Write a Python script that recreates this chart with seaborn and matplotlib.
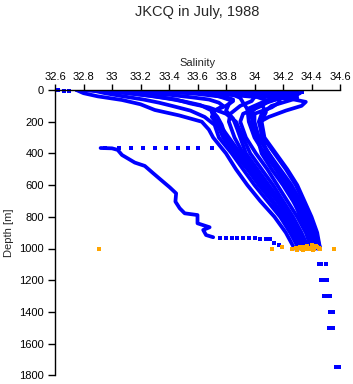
import numpy as np
import pandas as pd
import matplotlib
matplotlib.use("Agg")
import matplotlib.pyplot as plt
import seaborn as sns

# ---------------- data ----------------
title = "JKCQ in July, 1988"
x_ticks = [32.6, 32.8, 33.0, 33.2, 33.4, 33.6, 33.8, 34.0, 34.2, 34.4, 34.6]
x_tick_labels = ["32.6", "32.8", "33", "33.2", "33.4", "33.6", "33.8", "34", "34.2", "34.4", "34.6"]
y_ticks = [0, 200, 400, 600, 800, 1000, 1200, 1400, 1600, 1800]

# CTD profiles (salinity, depth)
pA_s = [32.75, 33.10, 33.40, 33.70, 33.90, 34.05, 34.25, 34.36, 34.33, 34.22, 34.10, 34.04, 34.05, 34.09, 34.17, 34.24, 34.30, 34.35, 34.40, 34.44]
pA_d = [0, 8, 15, 22, 30, 40, 55, 75, 100, 130, 170, 200, 300, 400, 500, 600, 700, 800, 900, 1000]
pB_s = [33.20, 33.50, 33.80, 34.00, 34.20, 34.30, 34.25, 34.12, 34.05, 34.03, 34.06, 34.14, 34.22, 34.29, 34.34, 34.39, 34.43, 34.46]
pB_d = [0, 10, 20, 30, 40, 50, 65, 100, 150, 200, 300, 400, 500, 600, 700, 800, 900, 1000]
pC_s = [33.60, 33.85, 34.10, 34.25, 34.30, 34.20, 34.05, 33.95, 33.96, 34.00, 34.07, 34.15, 34.22, 34.28, 34.32, 34.37, 34.41]
pC_d = [0, 10, 20, 25, 35, 50, 80, 120, 200, 300, 400, 500, 600, 700, 800, 900, 1000]
pD_s = [32.75, 32.80, 32.90, 33.07, 33.20, 33.30, 33.47, 33.63, 33.68, 33.71, 33.80, 33.87, 33.95, 34.04, 34.14, 34.22, 34.28]
pD_d = [0, 20, 40, 63, 90, 126, 160, 200, 250, 300, 400, 500, 600, 700, 800, 900, 1000]
pE_s = [32.85, 32.95, 33.08, 33.22, 33.33, 33.42, 33.55, 33.65, 33.72, 33.75, 33.84, 33.92, 34.00, 34.09, 34.18, 34.25, 34.31]
pE_d = [0, 20, 40, 60, 80, 100, 130, 170, 220, 300, 400, 500, 600, 700, 800, 900, 1000]
pF_s = [33.00, 33.08, 33.25, 33.40, 33.52, 33.62, 33.70, 33.74, 33.77, 33.80, 33.88, 33.97, 34.05, 34.13, 34.21, 34.28, 34.33]
pF_d = [0, 15, 35, 55, 75, 95, 130, 170, 220, 300, 400, 500, 600, 700, 800, 900, 1000]
pG_s = [33.30, 33.40, 33.60, 33.80, 33.85, 33.82, 33.80, 33.85, 33.88, 33.90, 33.94, 34.02, 34.10, 34.18, 34.25, 34.31, 34.36]
pG_d = [0, 10, 25, 45, 60, 90, 130, 180, 250, 300, 400, 500, 600, 700, 800, 900, 1000]
pH_s = [33.45, 33.55, 33.75, 34.02, 34.10, 34.05, 33.92, 33.90, 33.94, 34.01, 34.09, 34.16, 34.23, 34.30, 34.36, 34.40]
pH_d = [0, 10, 25, 45, 70, 100, 150, 200, 300, 400, 500, 600, 700, 800, 900, 1000]
pI_s = [33.80, 33.95, 34.10, 34.15, 34.18, 34.12, 34.00, 33.98, 34.02, 34.05, 34.12, 34.20, 34.27, 34.33, 34.39, 34.42]
pI_d = [0, 10, 25, 45, 75, 110, 150, 200, 300, 400, 500, 600, 700, 800, 900, 1000]
pJ_s = [34.00, 34.10, 34.22, 34.28, 34.20, 34.10, 34.05, 34.08, 34.05, 34.07, 34.15, 34.23, 34.30, 34.35, 34.40, 34.44, 34.46]
pJ_d = [0, 5, 15, 25, 40, 60, 90, 140, 200, 300, 400, 500, 600, 700, 800, 900, 1000]
pK_s = [32.80, 32.95, 33.20, 33.40, 33.55, 33.68, 33.75, 33.78, 33.70, 33.72, 33.78, 33.82, 33.90, 33.99, 34.07, 34.16, 34.24, 34.30, 34.34]
pK_d = [0, 10, 20, 30, 45, 60, 80, 100, 140, 180, 250, 300, 400, 500, 600, 700, 800, 900, 1000]
pL_s = [33.10, 33.30, 33.60, 33.85, 33.95, 34.00, 33.98, 33.90, 33.83, 33.82, 33.86, 33.92, 34.00, 34.08, 34.16, 34.23, 34.29, 34.35]
pL_d = [0, 5, 12, 20, 30, 45, 70, 100, 150, 200, 300, 400, 500, 600, 700, 800, 900, 1000]
pM_s = [32.90, 33.00, 33.15, 33.30, 33.45, 33.55, 33.68, 33.80, 33.87, 33.92, 33.97, 34.05, 34.13, 34.20, 34.27, 34.33, 34.38]
pM_d = [0, 10, 25, 40, 60, 85, 110, 150, 200, 300, 400, 500, 600, 700, 800, 900, 1000]
pN_s = [33.60, 33.70, 33.85, 33.90, 33.92, 33.95, 34.00, 34.00, 34.03, 34.10, 34.17, 34.25, 34.31, 34.36, 34.41, 34.44]
pN_d = [0, 10, 30, 50, 80, 120, 160, 200, 300, 400, 500, 600, 700, 800, 900, 1000]
pP_s = [33.50, 33.62, 33.75, 33.85, 33.80, 33.72, 33.70, 33.74, 33.78, 33.86, 33.95, 34.03, 34.12, 34.20, 34.27, 34.32]
pP_d = [0, 15, 40, 70, 100, 130, 170, 220, 300, 400, 500, 600, 700, 800, 900, 1000]
pQ_s = [34.20, 34.28, 34.32, 34.28, 34.15, 34.02, 33.97, 33.99, 34.03, 34.10, 34.18, 34.26, 34.32, 34.37, 34.42, 34.45]
pQ_d = [0, 8, 20, 35, 60, 100, 150, 200, 300, 400, 500, 600, 700, 800, 900, 1000]

# the odd profile that starts at ~366 m
odd_s = [32.92, 33.00, 33.04, 33.07, 33.16, 33.23, 33.29, 33.35, 33.405, 33.45, 33.445, 33.475, 33.51, 33.60, 33.60, 33.685, 33.64, 33.66, 33.71]
odd_d = [366, 368, 378, 410, 458, 479, 526, 572, 614, 652, 704, 746, 778, 789, 841, 866, 883, 915, 929]

# sparse blue samples
dots_s = [32.95, 33.05, 33.13, 33.22, 33.30, 33.38, 33.46, 33.53, 33.60, 33.70,
          33.76, 33.80, 33.84, 33.88, 33.92, 33.96, 34.00, 34.04, 34.08, 34.11, 34.14, 34.17,
          32.62, 32.66, 32.70, 33.95, 34.00, 34.05, 34.10, 34.15, 34.20, 34.25, 34.33,
          34.45, 34.47, 34.50, 34.47, 34.49, 34.51, 34.49, 34.51, 34.53, 34.53, 34.55,
          34.52, 34.55, 34.57, 34.59]
dots_d = [366, 366, 366, 366, 366, 366, 366, 366, 366, 366,
          935, 935, 935, 935, 936, 936, 936, 937, 937, 938, 965, 975,
          3, 5, 6, 20, 20, 21, 21, 22, 22, 22, 10,
          1100, 1100, 1100, 1200, 1200, 1200, 1300, 1300, 1300, 1400, 1400,
          1500, 1500, 1750, 1750]

# orange bottle samples near 1000 m
bottle_s = [32.91, 34.12, 34.19, 34.26, 34.29, 34.31, 34.33, 34.35, 34.37, 34.38, 34.40, 34.42, 34.44, 34.46,
            34.30, 34.34, 34.36, 34.39, 34.41, 34.43, 34.32, 34.37, 34.40, 34.45, 34.56]
bottle_d = [1000, 1000, 990, 1000, 998, 995, 1002, 990, 985, 1005, 995, 1000, 990, 1002,
            1008, 1008, 995, 998, 1008, 985, 990, 1000, 980, 995, 1000]

profiles = {
    "A": (pA_s, pA_d), "B": (pB_s, pB_d), "C": (pC_s, pC_d), "D": (pD_s, pD_d),
    "E": (pE_s, pE_d), "F": (pF_s, pF_d), "G": (pG_s, pG_d), "H": (pH_s, pH_d),
    "I": (pI_s, pI_d), "J": (pJ_s, pJ_d), "K": (pK_s, pK_d), "L": (pL_s, pL_d),
    "M": (pM_s, pM_d), "N": (pN_s, pN_d), "P": (pP_s, pP_d), "Q": (pQ_s, pQ_d),
    "odd": (odd_s, odd_d),
}

rows = []
for name, (ss, dd) in profiles.items():
    for i, (s, d) in enumerate(zip(ss, dd)):
        rows.append({"profile": name, "order": i, "S": s, "D": d})
prof_df = pd.DataFrame(rows)
dots_df = pd.DataFrame({"S": dots_s, "D": dots_d})
bottle_df = pd.DataFrame({"S": bottle_s, "D": bottle_d})

# ---------------- plot ----------------
sns.set_style("white")
plt.rcParams["font.family"] = ["Liberation Sans", "DejaVu Sans"]

fig = plt.figure(figsize=(3.53, 3.84), dpi=100)
ax = fig.add_axes([55 / 353, 1 - 375.3 / 384, 285 / 353, 285.3 / 384])

BLUE = "#0000ff"
ORANGE = "#ffa500"

sns.lineplot(data=prof_df, x="S", y="D", units="profile", estimator=None, sort=False,
             color=BLUE, linewidth=2.7, ax=ax, legend=False)
sns.scatterplot(data=dots_df, x="S", y="D", color=BLUE, marker="s", s=8, linewidth=0,
                ax=ax, legend=False, clip_on=False)
sns.scatterplot(data=bottle_df, x="S", y="D", color=ORANGE, marker="s", s=8, linewidth=0,
                ax=ax, legend=False, clip_on=False, zorder=5)

ax.set_xlim(32.6, 34.6)
ax.set_ylim(1800, 0)
ax.xaxis.tick_top()
ax.xaxis.set_label_position("top")
ax.set_xticks(x_ticks)
ax.set_xticklabels(x_tick_labels)
ax.set_yticks(y_ticks)
ax.set_xlabel("Salinity", fontsize=8, labelpad=4)
ax.set_ylabel("Depth [m]", fontsize=8, labelpad=4)
ax.tick_params(axis="x", which="both", top=True, bottom=False, length=4, width=1,
               direction="out", labelsize=8, pad=2, colors="black")
ax.tick_params(axis="y", which="both", left=True, length=5, width=1,
               direction="out", labelsize=8, pad=3, colors="black")
for side in ["bottom", "right"]:
    ax.spines[side].set_visible(False)
for side in ["top", "left"]:
    ax.spines[side].set_visible(True)
    ax.spines[side].set_color("black")
    ax.spines[side].set_linewidth(1)
ax.grid(False)

fig.text(197.5 / 353, 1 - 12 / 384, title, ha="center", va="center", fontsize=10.5)

fig.savefig("out.png", dpi=100)
